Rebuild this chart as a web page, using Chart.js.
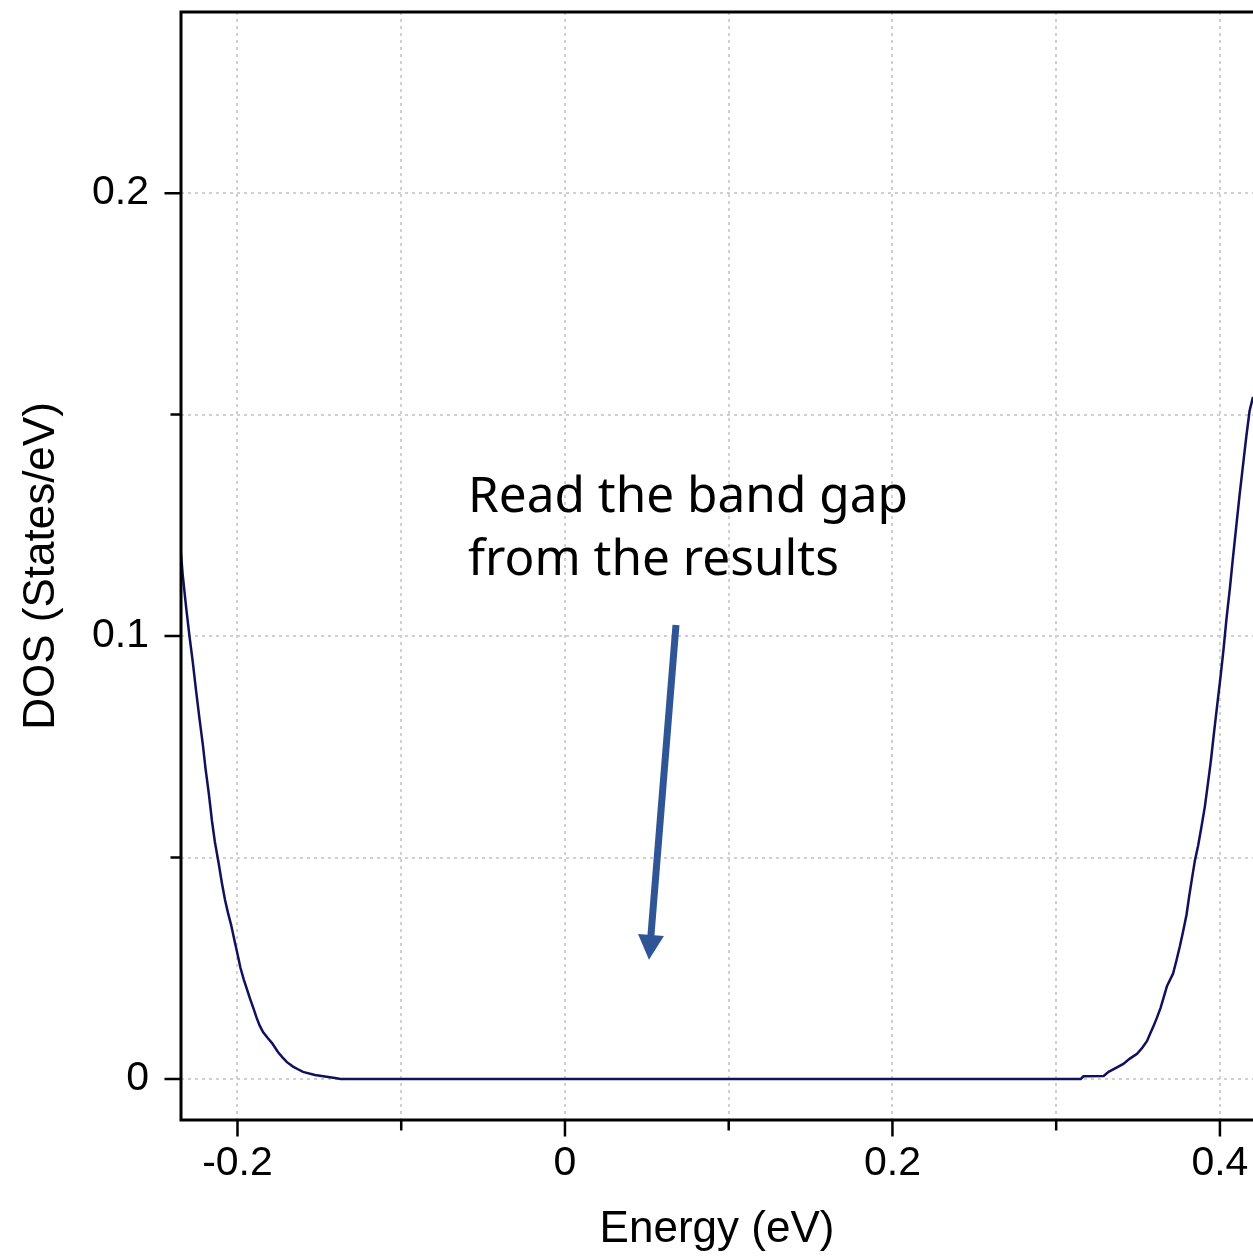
<!DOCTYPE html>
<html><head><meta charset="utf-8">
<script src="https://cdn.jsdelivr.net/npm/chart.js@4/dist/chart.umd.min.js"></script>
<style>html,body{margin:0;padding:0;background:#fff;overflow:hidden}#wrap{width:1253px;height:1256px}</style>
</head><body><div id="wrap"><canvas id="c" width="1253" height="1256"></canvas></div>
<script>
// ---- data ----
const energy = [
 -0.2345,-0.2335,-0.2314,-0.2294,-0.2273,-0.2253,-0.2232,-0.2212,-0.2195,-0.2175,
 -0.2156,-0.2138,-0.2115,-0.2095,-0.2076,-0.2058,-0.2039,-0.2021,-0.2000,-0.1982,
 -0.1962,-0.1941,-0.1923,-0.1904,-0.1884,-0.1865,-0.1844,-0.1814,-0.1789,-0.1771,
 -0.1753,-0.1728,-0.1698,-0.1661,-0.1631,-0.1600,-0.1527,-0.1405,-0.1370,
 0.3150,0.3167,0.3290,0.3320,0.3360,0.3410,0.3450,0.3494,0.3527,0.3555,
 0.3575,0.3596,0.3616,0.3637,0.3657,0.3677,0.3714,0.3734,0.3755,0.3775,
 0.3796,0.3812,0.3830,0.3847,0.3867,0.3887,0.3908,0.3926,0.3945,0.3963,
 0.3983,0.4004,0.4022,0.4040,0.4061,0.4079,0.4100,0.4120,0.4141,0.4161,
 0.4181,0.4202
];
const dos = [
 0.1185,0.1140,0.1066,0.1002,0.0941,0.0877,0.0813,0.0756,0.0700,0.0644,
 0.0583,0.0535,0.0487,0.0442,0.0404,0.0375,0.0348,0.0317,0.0282,0.0251,
 0.0225,0.0201,0.0181,0.0161,0.0139,0.0121,0.0106,0.0092,0.0081,0.0071,
 0.0061,0.0050,0.0038,0.0028,0.0022,0.0016,0.0009,0.0002,0.0000,
 0.0000,0.0006,0.0007,0.0016,0.0024,0.0034,0.0046,0.0057,0.0071,0.0086,
 0.0103,0.0121,0.0139,0.0160,0.0185,0.0210,0.0238,0.0267,0.0299,0.0333,
 0.0371,0.0412,0.0454,0.0493,0.0527,0.0569,0.0615,0.0665,0.0719,0.0779,
 0.0843,0.0909,0.0970,0.1039,0.1108,0.1175,0.1248,0.1318,0.1386,0.1450,
 0.1508,0.1540
];
const xTicks = [-0.2,-0.1,0,0.1,0.2,0.3,0.4];
const xLabels = ['-0.2','','0','','0.2','','0.4'];
const yTicks = [0,0.05,0.1,0.15,0.2];
const yLabels = ['0','','0.1','','0.2'];
const xRange = [-0.2345, 0.4202];
const yRange = [-0.00926, 0.2409];
const xTitle = 'Energy (eV)';
const yTitle = 'DOS (States/eV)';
const noteLines = ['Read the band gap','from the results'];
const noteAt = [-0.0592, 0.1281];
const arrowFrom = [0.0678, 0.1025];
const arrowTo = [0.0513, 0.0269];

const points = energy.map((e,i)=>({x:e, y:dos[i]}));

const decor = {
  id:'decor',
  afterDatasetsDraw(chart){
    const {ctx, chartArea:a, scales:{x,y}} = chart;
    ctx.save();
    // axes frame
    ctx.strokeStyle='#000'; ctx.lineWidth=3; ctx.lineCap='butt';
    ctx.beginPath();
    ctx.moveTo(a.left-1.5, a.top); ctx.lineTo(a.right, a.top);
    ctx.moveTo(a.left, a.top); ctx.lineTo(a.left, a.bottom+1.5);
    ctx.moveTo(a.left-1.5, a.bottom); ctx.lineTo(a.right, a.bottom);
    ctx.stroke();
    // tick marks
    ctx.lineWidth=2.5;
    ctx.beginPath();
    xTicks.forEach((v,i)=>{
      const px=x.getPixelForValue(v);
      const len = xLabels[i] ? 16.5 : 10.5;
      ctx.moveTo(px, a.bottom); ctx.lineTo(px, a.bottom+len);
    });
    yTicks.forEach((v,i)=>{
      const py=y.getPixelForValue(v);
      const len = yLabels[i] ? 16.5 : 10.5;
      ctx.moveTo(a.left, py); ctx.lineTo(a.left-len, py);
    });
    ctx.stroke();
    // arrow
    const x0=x.getPixelForValue(arrowFrom[0]), y0=y.getPixelForValue(arrowFrom[1]);
    const x1=x.getPixelForValue(arrowTo[0]), y1=y.getPixelForValue(arrowTo[1]);
    const ang=Math.atan2(y1-y0,x1-x0), hl=25, hw=13;
    const bx=x1-hl*Math.cos(ang), by=y1-hl*Math.sin(ang);
    ctx.strokeStyle='#2f5597'; ctx.fillStyle='#2f5597'; ctx.lineWidth=7;
    ctx.beginPath(); ctx.moveTo(x0,y0); ctx.lineTo(bx+2*Math.cos(ang),by+2*Math.sin(ang)); ctx.stroke();
    ctx.beginPath();
    ctx.moveTo(x1,y1);
    ctx.lineTo(bx+hw*Math.sin(ang), by-hw*Math.cos(ang));
    ctx.lineTo(bx-hw*Math.sin(ang), by+hw*Math.cos(ang));
    ctx.closePath(); ctx.fill();
    // note text
    ctx.fillStyle='#000'; ctx.font='49.5px "Noto Sans"'; ctx.textAlign='left'; ctx.textBaseline='alphabetic';
    const tx=x.getPixelForValue(noteAt[0]), ty=y.getPixelForValue(noteAt[1]);
    noteLines.forEach((t,i)=>ctx.fillText(t, tx, ty+i*63));
    ctx.restore();
  }
};

const tickFont = {family:'"Liberation Sans", Arial, sans-serif', size:41, lineHeight:1};
const titleFont = {family:'"Liberation Sans", Arial, sans-serif', size:44, lineHeight:1};
const noPad = s => { s.paddingTop=0; s.paddingBottom=0; s.paddingLeft=0; s.paddingRight=0; };

new Chart(document.getElementById('c'), {
  type:'line',
  data:{datasets:[{data:points, borderColor:'#10105c', borderWidth:2.5, pointRadius:0, tension:0, fill:false}]},
  options:{
    responsive:false, animation:false, devicePixelRatio:1,
    layout:{padding:{top:12,right:0,left:0,bottom:0}},
    plugins:{legend:{display:false}, tooltip:{enabled:false}},
    scales:{
      x:{type:'linear', min:xRange[0], max:xRange[1],
        afterBuildTicks:s=>{s.ticks=xTicks.map(v=>({value:v}));},
        afterFit:s=>{s.height=136; noPad(s);},
        ticks:{autoSkip:false, maxRotation:0, padding:23, color:'#000', font:tickFont,
          callback:(v,i)=>xLabels[i]},
        grid:{color:'#d0d0d0', lineWidth:2, drawTicks:false},
        border:{display:false, dash:[3,4]},
        title:{display:true, text:xTitle, color:'#000', font:titleFont, padding:{top:0,bottom:4}}
      },
      y:{type:'linear', min:yRange[0], max:yRange[1],
        afterBuildTicks:s=>{s.ticks=yTicks.map(v=>({value:v}));},
        afterFit:s=>{s.width=181; noPad(s);},
        ticks:{autoSkip:false, padding:32, color:'#000', font:tickFont,
          callback:(v,i)=>yLabels[i]},
        grid:{color:'#d0d0d0', lineWidth:2, drawTicks:false},
        border:{display:false, dash:[3,4]},
        title:{display:true, text:yTitle, color:'#000', font:titleFont, padding:{top:20,bottom:0}}
      }
    }
  },
  plugins:[decor]
});
</script></body></html>
